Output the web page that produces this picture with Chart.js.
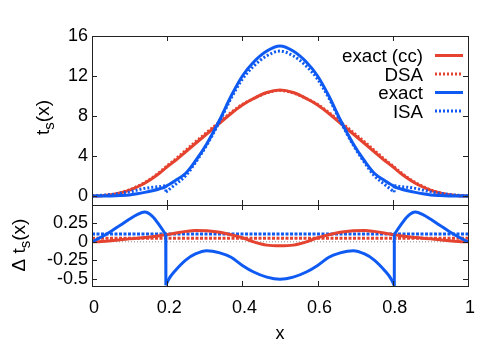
<!DOCTYPE html>
<html><head><meta charset="utf-8">
<script src="https://cdn.jsdelivr.net/npm/chart.js@4"></script>
<style>
html,body{margin:0;padding:0;background:#fff;}
#wrap{position:relative;width:491px;height:343px;}
canvas{position:absolute;left:0;top:0;}
</style></head><body>
<div id="wrap"><canvas id="cTop" width="491" height="343"></canvas><canvas id="cBot" width="491" height="343"></canvas></div>
<script>
// ---- data (null = discontinuity of the series) ----
const xValues = [0,0.025,0.05,0.075,0.1,0.12,0.14,0.16,0.18,0.196,0.19625,0.1965,0.205,0.22,0.25,0.275,0.305,0.34,0.37,0.4,0.43,0.465,0.5,0.535,0.57,0.6,0.63,0.66,0.695,0.725,0.75,0.78,0.795,0.8035,0.80375,0.804,0.82,0.84,0.86,0.88,0.9,0.925,0.95,0.975,1];
const exactCC = [0,0.03,0.12,0.3,0.58,0.9,1.28,1.75,2.3,2.8,2.81,2.82,3.07,3.5,4.45,5.25,6.2,7.3,8.25,9.1,9.75,10.35,10.6,10.35,9.75,9.1,8.25,7.3,6.2,5.25,4.45,3.5,3.07,2.82,2.81,2.8,2.3,1.75,1.28,0.9,0.58,0.3,0.12,0.03,0];
const dsa = [0,0.035,0.135,0.328,0.62,0.95,1.34,1.82,2.38,2.9,2.91,2.92,3.17,3.62,4.59,5.41,6.35,7.43,8.35,9.16,9.75,10.31,10.55,10.31,9.75,9.16,8.35,7.43,6.35,5.41,4.59,3.62,3.17,2.92,2.91,2.9,2.38,1.82,1.34,0.95,0.62,0.328,0.135,0.035,0];
const exact = [0,0,0.01,0.04,0.1,0.22,0.36,0.52,0.72,0.95,0.96,0.97,1.15,1.5,2.3,3.5,5.2,7.65,10.0,12.0,13.4,14.5,15.0,14.5,13.4,12.0,10.0,7.65,5.2,3.5,2.3,1.5,1.15,0.97,0.96,0.95,0.72,0.52,0.36,0.22,0.1,0.04,0.01,0,0];
const isa = [0,0.065,0.15,0.265,0.41,0.59,0.765,0.87,0.94,1.05,null,0.38,0.65,1.1,2.06,3.34,5.08,7.5,9.79,11.68,12.99,14.02,14.49,14.02,12.99,11.68,9.79,7.5,5.08,3.34,2.06,1.1,0.65,0.38,null,1.05,0.94,0.87,0.765,0.59,0.41,0.265,0.15,0.065,0];
const deltaCC = [0,0.005,0.015,0.028,0.04,0.05,0.06,0.07,0.083,0.095,0.095,0.095,0.102,0.116,0.142,0.155,0.15,0.13,0.095,0.055,0.0,-0.045,-0.055,-0.045,0.0,0.055,0.095,0.13,0.15,0.155,0.142,0.116,0.102,0.095,0.095,0.095,0.083,0.07,0.06,0.05,0.04,0.028,0.015,0.005,0];
const deltaExact = [0,0.065,0.14,0.225,0.31,0.37,0.405,0.35,0.22,0.1,null,-0.59,-0.5,-0.4,-0.245,-0.165,-0.12,-0.15,-0.21,-0.32,-0.41,-0.48,-0.51,-0.48,-0.41,-0.32,-0.21,-0.15,-0.12,-0.165,-0.245,-0.4,-0.5,-0.59,null,0.1,0.22,0.35,0.405,0.37,0.31,0.225,0.14,0.065,0];
const levelX = [0, 1];
const deltaDSALevel = [0.05, 0.05];
const deltaISALevel = [0.105, 0.105];
const zeroLevel = [0, 0];
const seriesLabels = ['exact (cc)', 'DSA', 'exact', 'ISA'];
const xTicks = [0, 0.2, 0.4, 0.6, 0.8, 1];
const xTickLabels = ['0', '0.2', '0.4', '0.6', '0.8', '1'];
const yTicksTop = [0, 4, 8, 12, 16];
const yTickLabelsTop = ['0', '4', '8', '12', '16'];
const yTicksBottom = [0.25, 0, -0.25, -0.5];
const yTickLabelsBottom = ['0.25', '0', '-0.25', '-0.5'];

// ---- styling ----
const RED = 'rgb(229,66,48)';
const BLUE = 'rgb(14,90,242)';
const FONT = '"Liberation Sans", Arial, Helvetica, sans-serif';
const pts = (xs, ys) => xs.map((x, i) => ({x, y: ys[i]}));
// vertical connectors across each discontinuity (null) of a series
function jumpPts(xs, ys) {
  const out = [];
  ys.forEach((y, i) => {
    if (y === null) out.push({x: xs[i - 1], y: ys[i - 1]}, {x: xs[i + 1], y: ys[i + 1]}, {x: xs[i + 1], y: null});
  });
  return out;
}

function tickMap(values, labels) {
  return (v) => { const i = values.findIndex(t => Math.abs(t - v) < 1e-9); return i >= 0 ? labels[i] : ''; };
}

const framePlugin = {
  id: 'frame',
  afterDatasetsDraw(chart, args, opts) {
    const {ctx, chartArea: a, scales} = chart;
    ctx.save();
    ctx.strokeStyle = '#222'; ctx.lineWidth = 1;
    ctx.beginPath();
    const L = 5;
    opts.xTicks.forEach(v => {
      const px = Math.round(scales.x.getPixelForValue(v)) + 0.5;
      ctx.moveTo(px, a.top); ctx.lineTo(px, a.top + L);
      ctx.moveTo(px, a.bottom); ctx.lineTo(px, a.bottom - L);
    });
    opts.yTicks.forEach(v => {
      const py = Math.round(scales.y.getPixelForValue(v)) + 0.5;
      ctx.moveTo(a.left, py); ctx.lineTo(a.left + L, py);
      ctx.moveTo(a.right, py); ctx.lineTo(a.right - L, py);
    });
    ctx.stroke();
    ctx.strokeRect(Math.round(a.left) + 0.5, Math.round(a.top) + 0.5, Math.round(a.right - a.left), Math.round(a.bottom - a.top));
    ctx.restore();
  }
};

const titlePlugin = {
  id: 'titles',
  afterDraw(chart, args, opts) {
    const ctx = chart.ctx;
    (opts.items || []).forEach(it => {
      ctx.save();
      ctx.fillStyle = '#000';
      ctx.textBaseline = 'alphabetic';
      ctx.textAlign = 'left';
      const big = it.size || 18, small = Math.round(big * 0.78);
      const widths = it.parts.map(p => { ctx.font = (p.sub ? small : big) + 'px ' + FONT; return ctx.measureText(p.t).width; });
      const total = widths.reduce((s, w) => s + w, 0);
      ctx.translate(it.x, it.y);
      if (it.rotate) ctx.rotate(-Math.PI / 2);
      let x = -total / 2;
      it.parts.forEach((p, i) => {
        ctx.font = (p.sub ? small : big) + 'px ' + FONT;
        ctx.fillText(p.t, x, p.sub ? Math.round(big * 0.28) : 0);
        x += widths[i];
      });
      ctx.restore();
    });
  }
};

const legendPlugin = {
  id: 'keyBox',
  afterDatasetsDraw(chart, args, opts) {
    const ctx = chart.ctx;
    ctx.save();
    chart.data.datasets.filter(ds => ds.inKey).forEach((ds, i) => {
      const y = opts.top + i * opts.spacing;
      ctx.font = opts.size + 'px ' + FONT;
      ctx.fillStyle = '#000';
      ctx.textAlign = 'right';
      ctx.textBaseline = 'alphabetic';
      ctx.fillText(ds.label, opts.textRight, y + 6.5);
      ctx.strokeStyle = ds.borderColor;
      ctx.lineWidth = ds.borderWidth;
      ctx.setLineDash(ds.borderDash || []);
      ctx.beginPath();
      ctx.moveTo(opts.sampleLeft, y); ctx.lineTo(opts.sampleRight, y);
      ctx.stroke();
    });
    ctx.restore();
  }
};

Chart.defaults.font.family = FONT;
Chart.defaults.color = '#000';

const lineBase = {pointRadius: 0, fill: false, cubicInterpolationMode: 'monotone', borderCapStyle: 'butt', spanGaps: false};
const jumpBase = {pointRadius: 0, fill: false, tension: 0, borderCapStyle: 'butt', spanGaps: false};

new Chart(document.getElementById('cTop'), {
  type: 'line',
  data: {
    datasets: [
      {...lineBase, inKey: true, label: seriesLabels[0], data: pts(xValues, exactCC), borderColor: RED, borderWidth: 3, order: 4},
      {...lineBase, inKey: true, label: seriesLabels[1], data: pts(xValues, dsa), borderColor: RED, borderWidth: 3, borderDash: [2, 2], order: 3},
      {...lineBase, inKey: true, label: seriesLabels[2], data: pts(xValues, exact), borderColor: BLUE, borderWidth: 3, order: 2},
      {...lineBase, inKey: true, label: seriesLabels[3], data: pts(xValues, isa), borderColor: BLUE, borderWidth: 3, borderDash: [2, 2], order: 1},
      {...jumpBase, label: 'ISA jumps', data: jumpPts(xValues, isa), borderColor: BLUE, borderWidth: 3, borderDash: [2, 2], order: 1}
    ]
  },
  options: {
    responsive: false, animation: false, devicePixelRatio: 1,
    layout: {padding: {left: 0, right: 23, top: 36, bottom: 138}},
    plugins: {
      legend: {display: false}, tooltip: {enabled: false},
      frame: {xTicks: xTicks, yTicks: yTicksTop},
      keyBox: {top: 55.5, spacing: 18.5, textRight: 423, sampleLeft: 435, sampleRight: 463, size: 18.7},
      titles: {items: [{x: 48.5, y: 117.5, rotate: true, size: 19, parts: [{t: 't'}, {t: 's', sub: true}, {t: '(x)'}]}]}
    },
    scales: {
      x: {type: 'linear', min: 0, max: 1, display: false},
      y: {
        min: -0.9, max: 16,
        grid: {display: false, drawTicks: false}, border: {display: false},
        afterBuildTicks: s => { s.ticks = yTicksTop.map(v => ({value: v})); },
        afterFit: s => { s.width = 92; },
        ticks: {font: {size: 18}, padding: 4, color: '#000', callback: tickMap(yTicksTop, yTickLabelsTop)}
      }
    }
  },
  plugins: [framePlugin, legendPlugin, titlePlugin]
});

new Chart(document.getElementById('cBot'), {
  type: 'line',
  data: {
    datasets: [
      {...lineBase, label: 'zero', data: pts(levelX, zeroLevel), borderColor: '#888', borderWidth: 1, borderDash: [1, 2], order: 5},
      {...lineBase, label: 'DSA level', data: pts(levelX, deltaDSALevel), borderColor: RED, borderWidth: 3, borderDash: [3, 1.5], order: 4},
      {...lineBase, label: 'ISA level', data: pts(levelX, deltaISALevel), borderColor: BLUE, borderWidth: 3, borderDash: [3, 1.5], order: 3},
      {...lineBase, label: 'DSA - exact (cc)', data: pts(xValues, deltaCC), borderColor: RED, borderWidth: 3, order: 2},
      {...lineBase, label: 'ISA - exact', data: pts(xValues, deltaExact), borderColor: BLUE, borderWidth: 3, order: 1},
      {...jumpBase, label: 'ISA - exact jumps', data: jumpPts(xValues, deltaExact), borderColor: BLUE, borderWidth: 3, order: 1}
    ]
  },
  options: {
    responsive: false, animation: false, devicePixelRatio: 1,
    layout: {padding: {left: 0, right: 23, top: 205, bottom: 0}},
    plugins: {
      legend: {display: false}, tooltip: {enabled: false},
      frame: {xTicks: xTicks, yTicks: yTicksBottom},
      titles: {items: [
        {x: 25, y: 245, rotate: true, size: 19, parts: [{t: '\u0394 t'}, {t: 's', sub: true}, {t: '(x)'}]},
        {x: 280, y: 339, rotate: false, size: 18, parts: [{t: 'x'}]}
      ]}
    },
    scales: {
      x: {
        type: 'linear', min: 0, max: 1, position: 'bottom',
        grid: {display: false, drawTicks: false}, border: {display: false},
        afterBuildTicks: s => { s.ticks = xTicks.map(v => ({value: v})); },
        afterFit: s => { s.height = 57; },
        ticks: {font: {size: 18}, padding: 11, color: '#000', maxRotation: 0, autoSkip: false, labelOffset: 2, callback: tickMap(xTicks, xTickLabels)}
      },
      y: {
        min: -0.6, max: 0.5,
        grid: {display: false, drawTicks: false}, border: {display: false},
        afterBuildTicks: s => { s.ticks = yTicksBottom.map(v => ({value: v})); },
        afterFit: s => { s.width = 92; },
        ticks: {font: {size: 18}, padding: 4, color: '#000', callback: tickMap(yTicksBottom, yTickLabelsBottom)}
      }
    }
  },
  plugins: [framePlugin, titlePlugin]
});
</script>
</body></html>
